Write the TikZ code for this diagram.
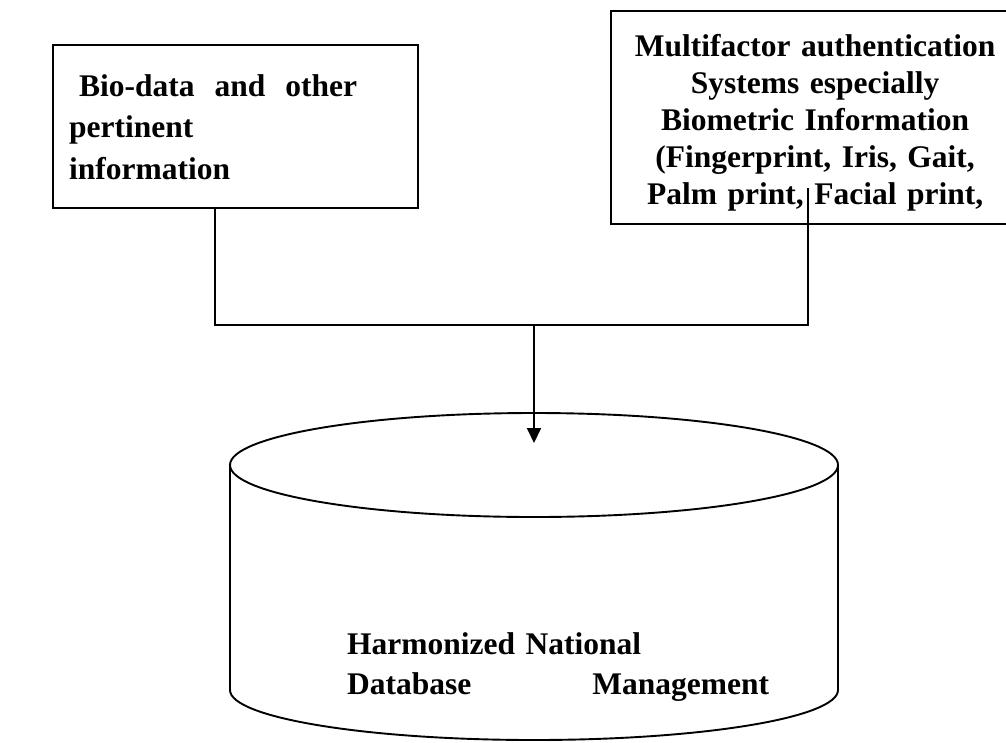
\documentclass[tikz,border=0pt]{standalone}
\usepackage{fontspec}
\setmainfont{Liberation Serif}
\usetikzlibrary{arrows.meta, positioning}

\begin{document}
\begin{tikzpicture}[
    x=1pt, y=-1pt,
    >={Triangle[length=15pt, width=14pt]},
    base/.style={draw=black, line width=2.3pt, inner ysep=0pt, inner xsep=16pt, anchor=north west},
    biobox/.style={base, align=left, text width=333pt, text height=51pt, text depth=112pt,
        font=\bfseries\fontsize{31.5}{41.5}\selectfont},
    authbox/.style={base, align=center, text width=376pt, text height=45pt, text depth=168pt,
        font=\bfseries\fontsize{31.5}{37}\selectfont},
    dbtext/.style={inner sep=0pt, anchor=base west, align=left, text width=430pt,
        font=\bfseries\fontsize{31.5}{40}\selectfont},
    cyl/.style={line width=1.9pt},
    link/.style={line width=1.9pt}
]
\useasboundingbox (0,0) rectangle (1006,742);

% Input boxes
\node[biobox] (bio) at (52,44) {\hspace*{10pt}Bio-data\hspace{20pt}and\hspace{20pt}other\\pertinent\\information};
\node[authbox] (auth) at (610,10) {Multifactor authentication\\Systems especially\\Biometric Information\\(Fingerprint, Iris, Gait,\\Palm print, Facial print,};

% Database cylinder
\draw[cyl] (230,465) -- (230,690) arc[start angle=180, end angle=360, x radius=304pt, y radius=50pt] -- (838,465);
\draw[cyl] (534,465) ellipse [x radius=304pt, y radius=52pt];
\node[dbtext] (db) at (347,654) {Harmonized National\\Database\hspace{121pt}Management};

% Connections
\coordinate (tee) at (534,325);
\coordinate (authdrop) at (808,188);
\coordinate (dbtop) at (534,443);
\draw[link] ([xshift=-20.5pt]bio.south) |- (tee) -| (authdrop);
\draw[link,->] (tee) -- (dbtop);

\end{tikzpicture}
\end{document}
